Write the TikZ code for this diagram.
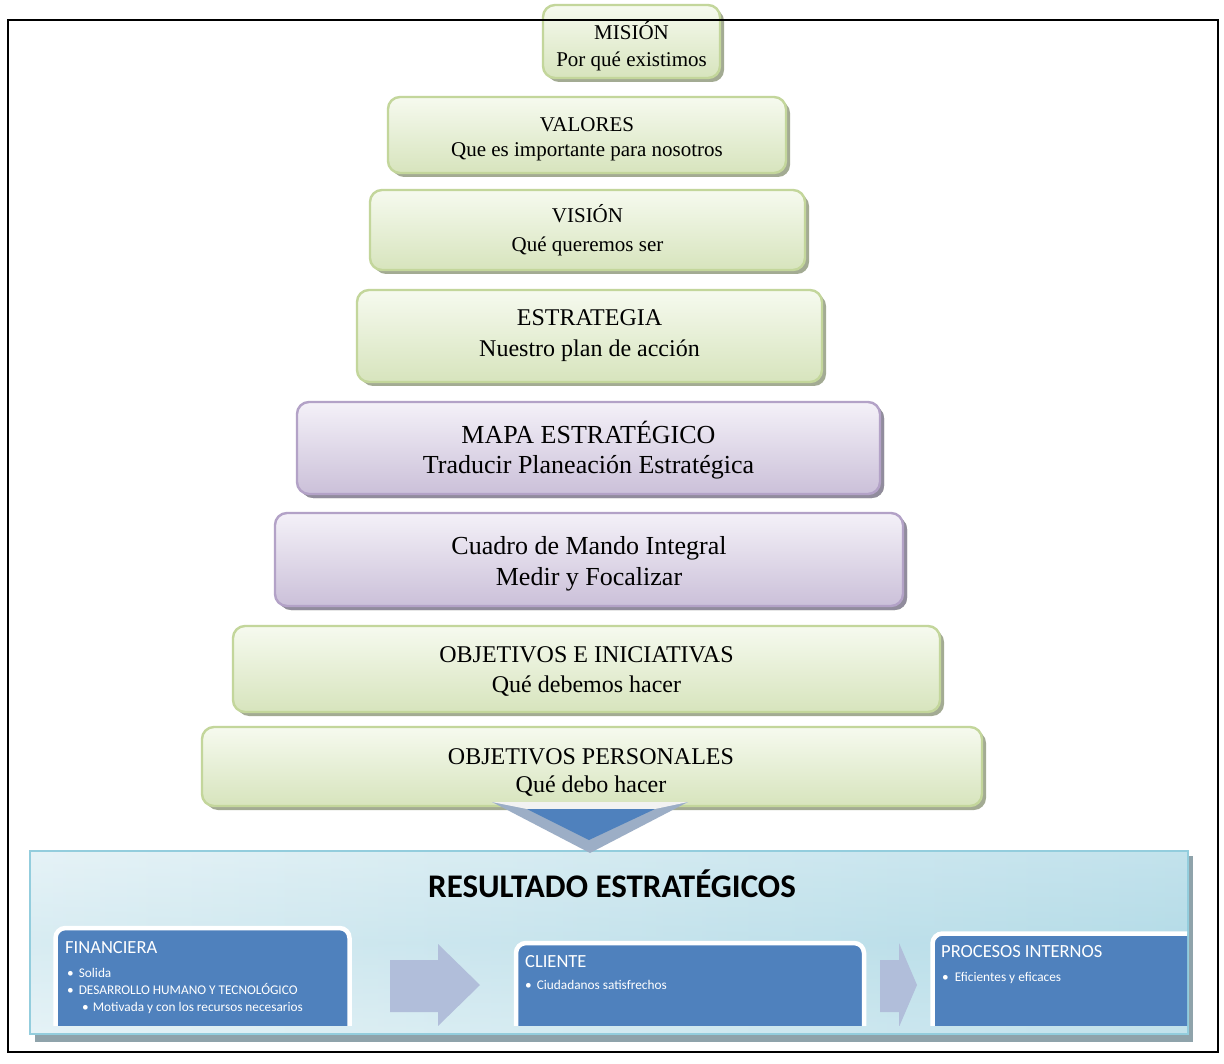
\documentclass[tikz,border=0pt]{standalone}
\usepackage{fontspec}
\setmainfont{Liberation Serif}
\newfontfamily\carl{Carlito}
\usetikzlibrary{shadows}
\definecolor{gborder}{HTML}{C3D69B}
\definecolor{gtop}{HTML}{F6FAEF}
\definecolor{gbot}{HTML}{D7E4BD}
\definecolor{gshadow}{HTML}{A3AB93}
\definecolor{pborder}{HTML}{B3A2C7}
\definecolor{ptop}{HTML}{F4F1F8}
\definecolor{pbot}{HTML}{CBC0D9}
\definecolor{pshadow}{HTML}{918C9D}
\definecolor{accblue}{HTML}{4F81BD}
\definecolor{bevel}{HTML}{9CAEC6}
\definecolor{arrowc}{HTML}{B1BEDA}
\definecolor{panelb}{HTML}{93CDDD}
\definecolor{panelsh}{HTML}{8FA3AB}
\definecolor{panL}{HTML}{D8ECF2}
\definecolor{panR}{HTML}{A2D3E2}
\definecolor{chevtop}{HTML}{F2F2F2}
\tikzset{
  gbox/.style={draw=gborder, line width=2.4pt, rounded corners=12pt,
    top color=gtop, bottom color=gbot, inner sep=0pt,
    drop shadow={shadow xshift=4pt, shadow yshift=-4pt, fill=gshadow, opacity=1}},
  pbox/.style={gbox, draw=pborder, top color=ptop, bottom color=pbot,
    drop shadow={shadow xshift=4pt, shadow yshift=-4pt, fill=pshadow, opacity=1}},
  tline/.style={anchor=base, inner sep=0pt},
  tsmall/.style={tline, font=\fontsize{21}{25}\selectfont},
  tmid/.style={tline, font=\fontsize{24}{28}\selectfont},
  tbig/.style={tline, font=\fontsize{26}{30}\selectfont},
  subbox/.style={draw=white, line width=4.5pt, fill=accblue, rounded corners=10pt},
  subtitle/.style={anchor=base west, text=white, inner sep=0pt, font=\carl\fontsize{18.5}{20}\selectfont},
  bullet/.style={anchor=base west, text=white, inner sep=0pt, font=\carl\fontsize{13.3}{15}\selectfont},
  flow/.style={fill=arrowc, draw=none}
}
\begin{document}
\begin{tikzpicture}[x=1pt, y=-1pt]
\useasboundingbox (0,0) rectangle (1224,1064);
\fill[white] (0,0) rectangle (1224,1064);

% pyramid of boxes
\node[gbox, minimum width=177pt, minimum height=73pt] (mision) at (631.5,41.5) {};
\node[tsmall] (mision1) at (631.5,40) {MISIÓN};
\node[tsmall] (mision2) at (631.5,67) {Por qué existimos};

\node[gbox, minimum width=398pt, minimum height=76pt] (valores) at (587,135) {};
\node[tsmall] (valores1) at (587,132) {VALORES};
\node[tsmall] (valores2) at (587,157) {Que es importante para nosotros};

\node[gbox, minimum width=435pt, minimum height=80pt] (vision) at (587.5,230) {};
\node[tsmall] (vision1) at (587.5,223) {VISIÓN};
\node[tsmall] (vision2) at (587.5,252) {Qué queremos ser};

\node[gbox, minimum width=465pt, minimum height=92pt] (estrategia) at (589.5,336) {};
\node[tmid] (estrategia1) at (589.5,326) {ESTRATEGIA};
\node[tmid] (estrategia2) at (589.5,357) {Nuestro plan de acción};

\node[pbox, minimum width=583pt, minimum height=92pt] (mapa) at (588.5,448) {};
\node[tbig] (mapa1) at (588.5,443) {MAPA ESTRATÉGICO};
\node[tbig] (mapa2) at (588.5,473) {Traducir Planeación Estratégica};

\node[pbox, minimum width=628pt, minimum height=93pt] (cuadro) at (589,559.5) {};
\node[tbig] (cuadro1) at (589,554) {Cuadro de Mando Integral};
\node[tbig] (cuadro2) at (589,585) {Medir y Focalizar};

\node[gbox, minimum width=707pt, minimum height=86pt] (objini) at (586.5,669) {};
\node[tmid] (objini1) at (586.5,662) {OBJETIVOS E INICIATIVAS};
\node[tmid] (objini2) at (586.5,692) {Qué debemos hacer};

\node[gbox, minimum width=780pt, minimum height=79pt] (objper) at (592,766.5) {};
\node[tmid] (objper1) at (591,764) {OBJETIVOS PERSONALES};
\node[tmid] (objper2) at (591,792) {Qué debo hacer};

% bottom panel
\fill[panelsh] (35,856) rectangle (1193,1042);
\shade[left color=panL, right color=panR] (30,851) rectangle (1188,1034);
\shade[top color=white, bottom color=white, middle color=panL, opacity=0.35] (30,851) rectangle (1188,1034);
\draw[panelb, line width=1.5pt] (30,851) rectangle (1188,1034);
\node[anchor=base, inner sep=0pt, font=\carl\bfseries\fontsize{33}{36}\selectfont] (restitle) at (612,897) {RESULTADO ESTRATÉGICOS};

\begin{scope}
\clip (31,852) rectangle (1187,1025);
\draw[subbox] (55.5,928) rectangle (349.5,1060);
\draw[subbox] (516,943) rectangle (864,1060);
\draw[subbox] (932.5,933.5) rectangle (1240,1060);
\fill[flow] (390,960) -- (438,960) -- (438,944) -- (480,985) -- (438,1026) -- (438,1012) -- (390,1012) -- cycle;
\fill[flow] (880,960) -- (899,960) -- (899,943) -- (917,985) -- (899,1027) -- (899,1012) -- (880,1012) -- cycle;
\end{scope}

\node[subtitle] (fin) at (65,953) {FINANCIERA};
\node[bullet] (fin1) at (67,977) {•\hspace{5pt}Solida};
\node[bullet] (fin2) at (67,994) {•\hspace{5pt}DESARROLLO HUMANO Y TECNOLÓGICO};
\node[bullet] (fin3) at (82,1011) {•\hspace{4pt}Motivada y con los recursos necesarios};
\node[subtitle] (cli) at (525,967) {CLIENTE};
\node[bullet] (cli1) at (525,989) {•\hspace{5pt}Ciudadanos satisfrechos};
\node[subtitle] (proc) at (941,957) {PROCESOS INTERNOS};
\node[bullet] (proc1) at (942,981) {•\hspace{6pt}Eficientes y eficaces};

% chevron
\fill[bevel] (492,802) -- (688,802) -- (590,853) -- cycle;
\fill[chevtop] (492,802) -- (688,802) -- (655,809) -- (527,809) -- cycle;
\fill[accblue] (527,809) -- (655,809) -- (589,840) -- cycle;
\coordinate (chevtip) at (590,853);

% outer frame
\draw[line width=2pt] (8,20) rectangle (1218,1052);
\end{tikzpicture}
\end{document}
